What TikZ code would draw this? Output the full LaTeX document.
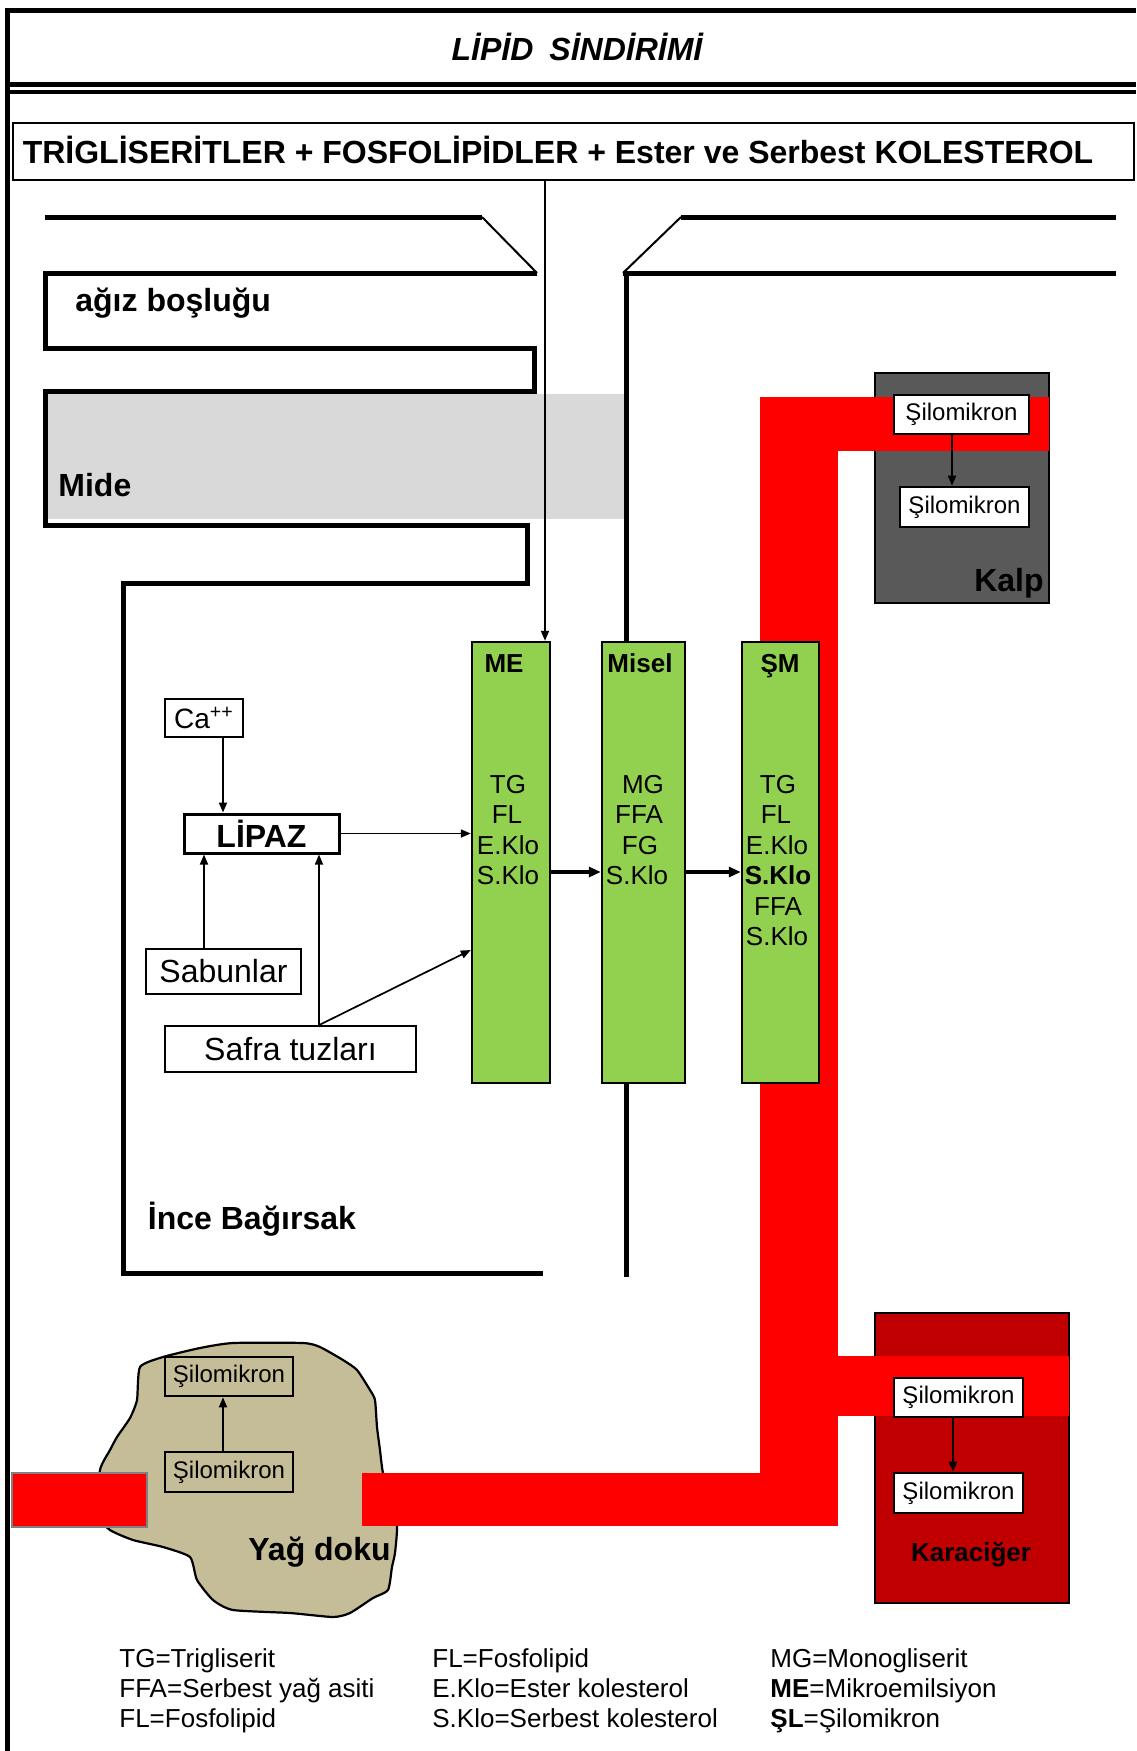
\documentclass[tikz,border=0pt]{standalone}
\usepackage{fontspec}
\setmainfont{Liberation Sans}
\usetikzlibrary{arrows.meta,calc}
\definecolor{lgreen}{HTML}{92D050}
\definecolor{midegray}{HTML}{D9D9D9}
\definecolor{kalpgray}{HTML}{595959}
\definecolor{liverred}{HTML}{C00000}
\definecolor{tan}{HTML}{C4BD97}
\definecolor{bandred}{HTML}{FF0000}
\newcommand{\myfs}[1]{\fontsize{#1}{#1}\selectfont}
\begin{document}
\begin{tikzpicture}[x=0.5pt,y=-0.5pt,
  wall/.style={line width=2.5pt},
  arr/.style={line width=0.85pt,-{Triangle[length=5pt,width=4pt]}},
  tarr/.style={line width=1.7pt,-{Triangle[length=6pt,width=5pt]}},
  box/.style={draw,inner sep=0pt,line width=0.9pt},
  gbox/.style={draw,fill=lgreen,line width=1.2pt,minimum height=220.5pt,inner sep=0pt},
  silo/.style={draw,line width=1.3pt,inner sep=0pt,minimum height=19.5pt,minimum width=64.5pt,font=\myfs{12pt}},
  lbl/.style={inner sep=0pt,anchor=base west},
  clbl/.style={inner sep=0pt,anchor=base},
  gtxt/.style={inner sep=0pt,anchor=base,font=\myfs{13pt}},
  big/.style={font=\myfs{16pt}\bfseries}
]
\useasboundingbox (0,0) rectangle (1136,1751);
\fill[white] (0,0) rectangle (1136,1751);

% frame
\draw[line width=2.5pt] (7.5,1751) -- (7.5,10.5) -- (1136,10.5);
\draw[line width=2.2pt] (7.5,84.5) -- (1136,84.5);
\draw[line width=2.2pt] (7.5,92) -- (1136,92);
\node[clbl,font=\myfs{16pt}\bfseries\itshape] (title) at (577,60) {LİPİD\hspace{0.5em}SİNDİRİMİ};

% top box
\node[box,line width=1pt,minimum width=560.5pt,minimum height=28.5pt] (trig) at (573.5,151.5) {};
\node[clbl,big] (trigtxt) at (558,163.5) {TRİGLİSERİTLER + FOSFOLİPİDLER + Ester ve Serbest KOLESTEROL};

% stomach gray
\fill[midegray] (45,394) rectangle (624,519);

% left funnel walls
\draw[wall] (45,217) -- (482,217);
\draw[line width=1pt] (482,217) -- (537,273);
\draw[wall] (537,273) -- (45,273) -- (45,348.5) -- (534,348.5) -- (534,391.5) -- (45,391.5) -- (45,525.5) -- (527.5,525.5) -- (527.5,583) -- (123,583) -- (123,1273) -- (543,1273);
% right funnel walls
\draw[line width=1pt] (681,217) -- (623,273);
\draw[wall] (681,217) -- (1116,217);
\draw[wall] (623,273) -- (1116,273);

\node[lbl,big] (agiz) at (75,311) {ağız boşluğu};
\node[lbl,big] (mide) at (58,496) {Mide};
\node[lbl,big] (ince) at (147.5,1229) {İnce Bağırsak};

% organs
\node[draw,fill=kalpgray,line width=1pt,minimum width=87pt,minimum height=115pt,inner sep=0pt] (kalp) at (962,488) {};
\node[draw,fill=liverred,line width=1.2pt,minimum width=97pt,minimum height=145pt,inner sep=0pt] (liver) at (972,1458) {};

% fat tissue blob
\begin{scope}[shift={(250,1480)}]
\draw[fill=tan,line width=1.1pt,line join=round]
  plot[smooth cycle,tension=0.35] coordinates {(-110,-113) (-87,-123) (-50,-132) (-17,-137) (53,-137) (70,-133) (93,-120) (107,-110) (120,-90) (125,-80) (127,-53) (130,-30) (133,-7) (142,20) (147,47) (145,73) (142,87) (138,110) (123,118) (100,133) (83,137) (40,133) (-17,130) (-37,120) (-53,100) (-60,77) (-87,67) (-117,60) (-140,50) (-152,35) (-150,-10) (-140,-30) (-133,-43) (-120,-62) (-113,-80)};
\end{scope}

% red bands
\fill[bandred] (760,397) rectangle (838,1526);
\fill[bandred] (760,397) rectangle (1049,451);
\fill[bandred] (838,1356) rectangle (1069,1416);
\fill[bandred] (362,1473) rectangle (838,1526);
\filldraw[fill=bandred,draw=gray,line width=1pt] (12,1473) rectangle (147,1527);

% green boxes
\node[gbox,minimum width=39pt] (me) at (511,862.5) {};
\node[gbox,minimum width=41.5pt] (misel) at (643.5,862.5) {};
\node[gbox,minimum width=38.5pt] (sm) at (780.5,862.5) {};

% right vertical wall, interrupted by Misel
\coordinate (wx) at (626,273);
\draw[wall] (wx) -- (wx |- misel.north);
\coordinate (wb) at (626,1277);
\draw[wall] (wb |- misel.south) -- (wb);

\node[gtxt,font=\myfs{13pt}\bfseries] (meh) at (504,672) {ME};
\node[gtxt,font=\myfs{13pt}\bfseries] (miselh) at (640,672) {Misel};
\node[gtxt,font=\myfs{13pt}\bfseries] (smh) at (780,672) {ŞM};

\node[gtxt] (me1) at (508,793) {TG};
\node[gtxt] (me2) at (507,823.5) {FL};
\node[gtxt] (me3) at (508,854) {E.Klo};
\node[gtxt] (me4) at (508,884.5) {S.Klo};

\node[gtxt] (mi1) at (643,793) {MG};
\node[gtxt] (mi2) at (639,823.5) {FFA};
\node[gtxt] (mi3) at (640,854) {FG};
\node[gtxt] (mi4) at (637,884.5) {S.Klo};

\node[gtxt] (sm1) at (778,793) {TG};
\node[gtxt] (sm2) at (776,823.5) {FL};
\node[gtxt] (sm3) at (777,854) {E.Klo};
\node[gtxt,font=\myfs{13pt}\bfseries] (sm4) at (778,884.5) {S.Klo};
\node[gtxt] (sm5) at (778,915) {FFA};
\node[gtxt] (sm6) at (777,945.5) {S.Klo};

% arrow from top box into ME
\coordinate (meA) at (545,642);
\draw[arr] (trig.south -| meA) -- (meA |- me.north);

% thick arrows between green boxes
\coordinate (ya) at (0,872);
\draw[tarr] (me.east |- ya) -- (misel.west |- ya);
\draw[tarr] (misel.east |- ya) -- (sm.west |- ya);

% lipase cluster
\node[box,minimum width=39pt,minimum height=19pt,font=\myfs{14pt}] (ca) at (204,718) {Ca\textsuperscript{++}};
\node[box,line width=1.5pt,minimum width=77.5pt,minimum height=19.5pt,big] (lipaz) at (261.5,833.5) {LİPAZ};
\node[box,minimum width=77.5pt,minimum height=22.5pt,font=\myfs{16pt}] (sab) at (223.5,971.5) {Sabunlar};
\node[box,minimum width=125.5pt,minimum height=23pt,font=\myfs{16pt}] (safra) at (290.5,1049) {Safra tuzları};

\coordinate (cax) at (223,0);
\draw[arr] (ca.south -| cax) -- (lipaz.north -| cax);
\coordinate (sbx) at (204,0);
\draw[arr] (sab.north -| sbx) -- (lipaz.south -| sbx);
\coordinate (sfx) at (319,0);
\draw[arr] (safra.north -| sfx) -- (lipaz.south -| sfx);
\coordinate (mey) at (0,950);
\draw[arr] (safra.north -| sfx) -- (me.west |- mey);
\draw[arr] (lipaz.east) -- (lipaz.east -| me.west);

% heart
\node[silo,fill=white,minimum width=67.5pt] (k1) at (961.5,414.5) {Şilomikron};
\node[silo,fill=white,minimum width=64.5pt,minimum height=20pt] (k2) at (964.5,507) {Şilomikron};
\coordinate (kx) at (952,0);
\draw[arr] (k1.south -| kx) -- (k2.north -| kx);
\node[inner sep=0pt,anchor=base east,big] (kalpl) at (1044,591) {Kalp};

% liver
\node[silo,fill=white] (l1) at (958.5,1397.5) {Şilomikron};
\node[silo,fill=white,minimum height=20pt] (l2) at (958.5,1493) {Şilomikron};
\coordinate (lx) at (953,0);
\draw[arr] (l1.south -| lx) -- (l2.north -| lx);
\node[clbl,font=\myfs{13pt}\bfseries] (liverl) at (971,1561) {Karaciğer};

% fat tissue
\node[silo,minimum width=64pt] (f1) at (229,1376.5) {Şilomikron};
\node[silo,minimum width=64pt,minimum height=20pt] (f2) at (229,1472) {Şilomikron};
\coordinate (fx) at (223,0);
\draw[arr] (f2.north -| fx) -- (f1.south -| fx);
\node[lbl,big] (yag) at (248,1560) {Yağ doku};

% legend
\begin{scope}[every node/.style={lbl,font=\myfs{13pt}}]
\node (g1) at (119,1667) {TG=Trigliserit};
\node (g2) at (119,1697) {FFA=Serbest yağ asiti};
\node (g3) at (119,1727) {FL=Fosfolipid};
\node (g4) at (432,1667) {FL=Fosfolipid};
\node (g5) at (432,1697) {E.Klo=Ester kolesterol};
\node (g6) at (432,1727) {S.Klo=Serbest kolesterol};
\node (g7) at (770,1667) {MG=Monogliserit};
\node (g8) at (770,1697) {\textbf{ME}=Mikroemilsiyon};
\node (g9) at (770,1727) {\textbf{ŞL}=Şilomikron};
\end{scope}
\end{tikzpicture}
\end{document}
